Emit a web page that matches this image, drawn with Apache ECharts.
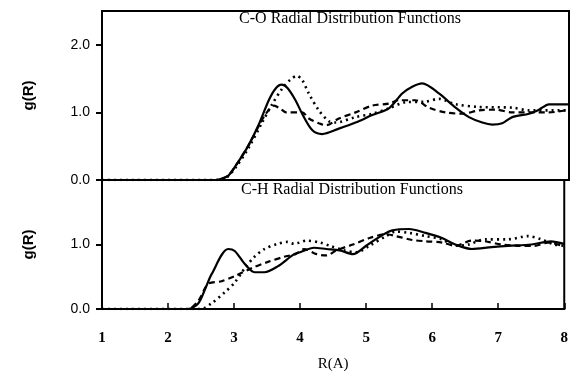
<!DOCTYPE html>
<html>
<head>
<meta charset="utf-8">
<script src="https://cdn.jsdelivr.net/npm/echarts@6/dist/echarts.min.js"></script>
<style>
  html, body { margin: 0; padding: 0; background: #fff; }
  #chart { width: 571px; height: 373px; }
</style>
</head>
<body>
<div id="chart"></div>
<script>
// R(A) ticks
const rTicks = [1, 2, 3, 4, 5, 6, 7, 8];

// C-O panel, [R, g(R)]
const coSolid = [[1,0],[2.7,0],[2.8,0.02],[2.9,0.07],[3.05,0.28],[3.2,0.52],[3.35,0.82],[3.5,1.18],[3.6,1.35],[3.69,1.41],[3.78,1.36],[3.9,1.18],[4.0,0.98],[4.15,0.74],[4.3,0.68],[4.55,0.76],[4.8,0.85],[5.05,0.96],[5.3,1.06],[5.5,1.28],[5.65,1.38],[5.8,1.43],[6.05,1.28],[6.3,1.07],[6.5,0.93],[6.7,0.85],[6.85,0.82],[7.0,0.84],[7.15,0.93],[7.4,0.98],[7.55,1.04],[7.7,1.12],[8,1.12]];
const coDash = [[1,0],[2.7,0],[2.8,0.02],[2.9,0.07],[3.05,0.28],[3.2,0.52],[3.35,0.8],[3.45,0.97],[3.58,1.10],[3.68,1.05],[3.76,1.0],[4.0,1.0],[4.1,0.91],[4.25,0.84],[4.36,0.81],[4.55,0.91],[4.8,1.0],[5.05,1.10],[5.3,1.13],[5.45,1.18],[5.7,1.18],[5.9,1.07],[6.15,1.0],[6.4,0.98],[6.65,1.03],[6.9,1.04],[7.15,1.0],[7.7,1.0],[8,1.04]];
const coDot = [[1,0],[2.75,0],[2.85,0.02],[3.0,0.18],[3.2,0.48],[3.4,0.85],[3.55,1.12],[3.7,1.35],[3.82,1.48],[3.92,1.54],[4.0,1.48],[4.1,1.28],[4.25,1.03],[4.4,0.87],[4.5,0.85],[4.8,0.93],[5.05,0.98],[5.3,1.06],[5.55,1.15],[5.85,1.16],[6.05,1.2],[6.3,1.12],[6.65,1.08],[7.15,1.07],[7.4,1.03],[8,1.03]];

// C-H panel, [R, g(R)]
const chSolid = [[1,0],[2.3,0],[2.46,0.09],[2.57,0.33],[2.66,0.54],[2.91,0.93],[3.01,0.9],[3.16,0.7],[3.31,0.57],[3.46,0.57],[3.66,0.66],[3.91,0.85],[4.0,0.88],[4.21,0.95],[4.4,0.93],[4.6,0.91],[4.8,0.85],[5.0,0.98],[5.25,1.15],[5.4,1.22],[5.65,1.24],[5.9,1.18],[6.15,1.10],[6.35,1.0],[6.6,0.93],[6.9,0.96],[7.15,0.98],[7.5,1.0],[7.8,1.05],[8,1.01]];
const chDash = [[1,0],[2.3,0],[2.46,0.13],[2.61,0.39],[2.81,0.43],[3.01,0.51],[3.26,0.63],[3.51,0.73],[3.76,0.81],[3.93,0.85],[4.06,0.93],[4.25,0.85],[4.4,0.83],[4.55,0.91],[4.8,1.0],[5.05,1.10],[5.3,1.16],[5.45,1.13],[5.7,1.07],[5.9,1.05],[6.15,1.03],[6.35,0.98],[6.6,1.06],[6.8,1.05],[7.05,1.0],[7.3,0.98],[7.55,0.98],[7.75,1.03],[8,0.97]];
const chDot = [[1,0],[2.5,0],[2.66,0.09],[2.86,0.26],[3.01,0.41],[3.16,0.63],[3.31,0.81],[3.46,0.93],[3.66,1.01],[3.81,1.04],[3.91,1.01],[4.1,1.06],[4.3,1.03],[4.45,0.98],[4.66,0.91],[4.85,0.88],[5.05,0.98],[5.3,1.13],[5.45,1.2],[5.65,1.18],[5.9,1.13],[6.15,1.08],[6.35,0.98],[6.55,1.0],[6.8,1.08],[7.15,1.08],[7.45,1.13],[7.65,1.08],[7.85,1.0],[8,0.98]];

const serif = '"Liberation Serif", "DejaVu Serif", serif';
const sans = '"Liberation Sans", "DejaVu Sans", sans-serif';

function line(data, grid, type) {
    let style = { color: '#000', width: 2.2, type: 'solid' };
    if (type === 'dash') style = { color: '#000', width: 2.2, type: [6, 4] };
    if (type === 'dot') style = { color: '#000', width: 2.6, type: [2, 4] };
    return {
        type: 'line',
        xAxisIndex: grid,
        yAxisIndex: grid,
        data: data,
        smooth: 0.3,
        symbol: 'none',
        lineStyle: style,
        silent: true
    };
}

function yAxis(grid, max) {
    return {
        type: 'value',
        gridIndex: grid,
        min: 0,
        max: max,
        interval: 1,
        name: 'g(R)',
        nameLocation: 'middle',
        nameRotate: 90,
        nameGap: 66,
        nameTextStyle: { fontFamily: sans, fontSize: 15, fontWeight: 'bold', color: '#000' },
        axisLine: { show: true, lineStyle: { color: '#000', width: 2 } },
        axisTick: { show: true, inside: false, length: 6, lineStyle: { color: '#000', width: 2 } },
        axisLabel: {
            margin: 12,
            fontFamily: sans,
            fontSize: 14,
            color: '#000',
            showMaxLabel: false,
            formatter: v => (v > max - 0.6 && v > 1.5 && grid === 1) || (v > 2.4) ? '' : v.toFixed(1)
        },
        splitLine: { show: false }
    };
}

const chart = echarts.init(document.getElementById('chart'));
chart.setOption({
    animation: false,
    backgroundColor: '#fff',
    title: [
        { text: 'C-O Radial Distribution Functions', left: 350, top: 11, textAlign: 'center', padding: 0,
          textStyle: { fontFamily: serif, fontSize: 16, fontWeight: 'normal', color: '#000' } },
        { text: 'C-H Radial Distribution Functions', left: 352, top: 182, textAlign: 'center', padding: 0,
          textStyle: { fontFamily: serif, fontSize: 16, fontWeight: 'normal', color: '#000' } }
    ],
    grid: [
        { left: 102, top: 11, width: 467, height: 169, show: true, borderColor: '#000', borderWidth: 2 },
        { left: 102, top: 180, width: 467, height: 134, show: true, borderColor: '#000', borderWidth: 2 }
    ],
    xAxis: [
        { type: 'value', gridIndex: 0, min: rTicks[0], max: rTicks[rTicks.length - 1], interval: 1,
          axisLine: { show: false }, axisTick: { show: false }, axisLabel: { show: false }, splitLine: { show: false } },
        { type: 'value', gridIndex: 1, min: rTicks[0], max: rTicks[rTicks.length - 1], interval: 1,
          name: 'R(A)', nameLocation: 'middle', nameGap: 48,
          nameTextStyle: { fontFamily: serif, fontSize: 15, color: '#000' },
          axisLine: { show: true, lineStyle: { color: '#000', width: 2 } },
          axisTick: { show: true, inside: true, length: 6, lineStyle: { color: '#000', width: 1.5 } },
          axisLabel: { margin: 22, fontFamily: serif, fontSize: 15, fontWeight: 'bold', color: '#000' },
          splitLine: { show: false } }
    ],
    yAxis: [yAxis(0, 2.5), yAxis(1, 2)],
    series: [
        line(coSolid, 0, 'solid'),
        line(coDash, 0, 'dash'),
        line(coDot, 0, 'dot'),
        line(chSolid, 1, 'solid'),
        line(chDash, 1, 'dash'),
        line(chDot, 1, 'dot')
    ]
});
</script>
</body>
</html>
